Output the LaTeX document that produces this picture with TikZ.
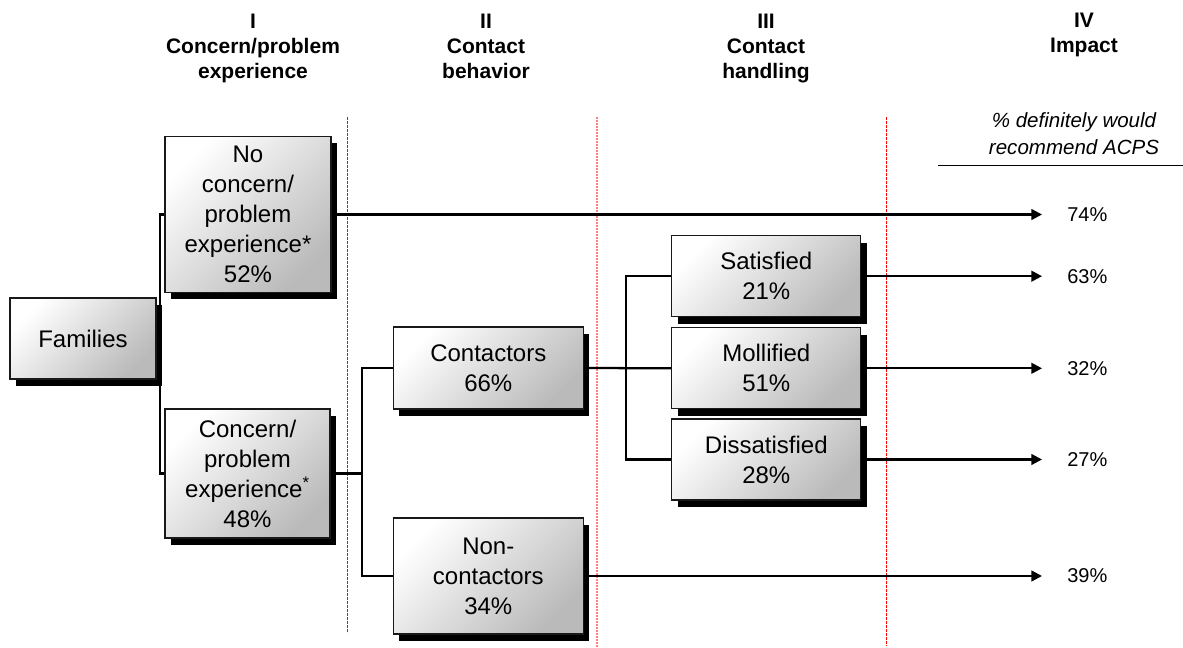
\documentclass[tikz,border=0pt]{standalone}
\usepackage{fontspec}
\setmainfont{Liberation Sans}
\usetikzlibrary{shadows,arrows.meta}
\tikzset{
  box/.style={draw=black!90, line width=1pt, top color=white, bottom color=black!27,
    shading angle=45, align=center, inner sep=2pt,
    font=\fontsize{18pt}{22.5pt}\selectfont,
    drop shadow={shadow xshift=4.5pt, shadow yshift=-5.25pt, fill=black, opacity=1}},
  head/.style={anchor=north, align=center, inner sep=0pt,
    font=\fontsize{15.75pt}{18.75pt}\selectfont\bfseries},
  conn/.style={line width=1.7pt, black},
  arr/.style={conn, -{Triangle[length=8pt,width=8pt]}},
  pct/.style={anchor=west, inner sep=0pt, font=\fontsize{15pt}{18pt}\selectfont},
  sepA/.style={red, line width=0.6pt, dash pattern=on 2pt off 1pt},
  sepB/.style={red!50, line width=1.2pt, dash pattern=on 1.5pt off 0.75pt}
}
\begin{document}
\begin{tikzpicture}[x=0.75pt,y=-0.75pt]
\useasboundingbox (0,0) rectangle (1183,648);
% column separators
\draw[sepA] (347,117) -- (347,633);
\draw[sepB] (597,117) -- (597,648);
\draw[sepA] (886,117) -- (886,646);
% headers
\node[head] (h1) at (253,13.3) {I\\Concern/problem\\experience};
\node[head] (h2) at (486,13.3) {II\\Contact\\behavior};
\node[head] (h3) at (766,13.3) {III\\Contact\\handling};
\node[head] (h4) at (1084,12.8) {IV\\Impact};
\node[align=center, inner sep=0pt, font=\fontsize{15.4pt}{20pt}\selectfont\itshape] (sub) at (1074,134) {\% definitely would\\recommend ACPS};
\coordinate (ulA) at (938,165.7);
\coordinate (ulB) at (1183,165.7);
\draw[line width=1.1pt] (ulA) -- (ulB);
% boxes
\node[box, minimum width=109.5pt, minimum height=60.75pt] (fam) at (83,338.5) {Families};
\node[box, minimum width=124.5pt, minimum height=117pt] (noc) at (248,214.5) {No\\concern/\\problem\\experience*\\52\%};
\node[box, minimum width=123.75pt, minimum height=96.75pt] (con) at (247.5,473.5) {Concern/\\problem\\experience\textsuperscript{*}\\48\%};
\node[box, minimum width=142.5pt, minimum height=61.5pt] (ctr) at (488.3,368) {Contactors\\66\%};
\node[box, minimum width=142.5pt, minimum height=87pt] (nct) at (488.3,576) {Non-\\contactors\\34\%};
\node[box, minimum width=141.75pt, minimum height=60.75pt] (sat) at (766.3,276.2) {Satisfied\\21\%};
\node[box, minimum width=141.75pt, minimum height=60.75pt] (mol) at (766.3,368.3) {Mollified\\51\%};
\node[box, minimum width=141.75pt, minimum height=60.75pt] (dis) at (766.3,459.5) {Dissatisfied\\28\%};
% connectors
\coordinate (j1) at (161,338.5);
\draw[conn] (fam.east) -- (j1);
\draw[conn] (noc.west) -- ++(-4.5,0) |- (con.west);
\draw[conn] (con.east) -- ++(32,0);
\draw[conn] (ctr.west) -- ++(-31,0) |- (nct.west);
\draw[conn] (ctr.east) -- (mol.west);
\draw[conn] (sat.west) -- ++(-45,0) |- (dis.west);
% arrows to impact
\coordinate (tip) at (1042,0);
\draw[arr] (noc.east) -- (noc.east -| tip);
\draw[arr] (sat.east) -- (sat.east -| tip);
\draw[arr] (mol.east) -- (mol.east -| tip);
\draw[arr] (dis.east) -- (dis.east -| tip);
\draw[arr] (nct.east) -- (nct.east -| tip);
% percentages
\node[pct] (p1) at (1067,214.5) {74\%};
\node[pct] (p2) at (1067,276.2) {63\%};
\node[pct] (p3) at (1067,368.3) {32\%};
\node[pct] (p4) at (1067,459.5) {27\%};
\node[pct] (p5) at (1067,576) {39\%};
\end{tikzpicture}
\end{document}
